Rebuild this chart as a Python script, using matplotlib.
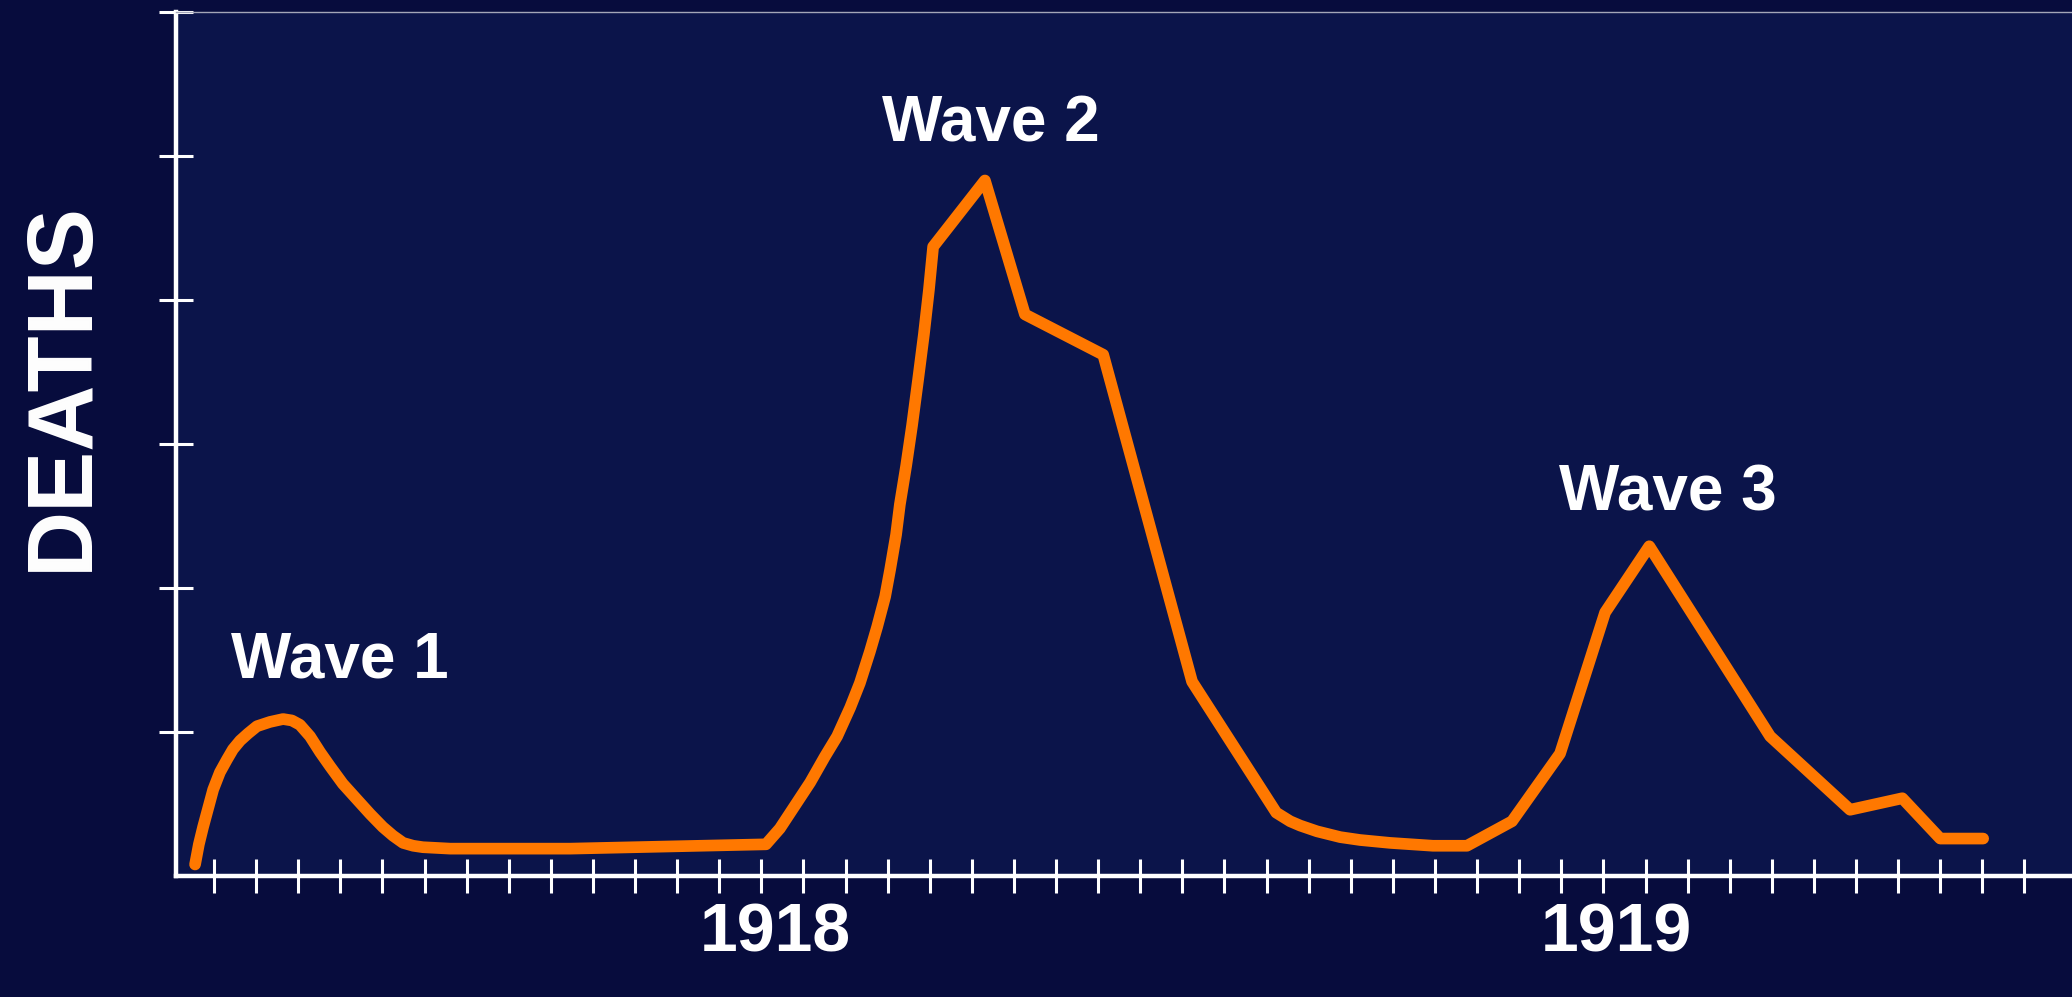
import matplotlib
matplotlib.use("Agg")
import matplotlib.pyplot as plt
import matplotlib.transforms as mtransforms

# ---- data (x in tick units, y in axis units 0..6) ----
week = [-0.45, -0.36, -0.26, -0.14, -0.02, 0.14, 0.31, 0.45, 0.62, 0.81,
        1.02, 1.33, 1.64, 1.85, 2.04, 2.16, 2.28, 2.52, 2.76, 3.06, 3.40,
        3.71, 4.01, 4.25, 4.49, 4.73, 4.96, 5.61, 6.79, 8.46,
        13.11, 13.44, 13.80, 14.16, 14.51, 14.80, 15.11, 15.34, 15.58,
        15.75, 15.94, 16.06, 16.20, 16.29, 16.44, 16.58, 16.72, 16.86,
        16.98, 17.08,
        18.31, 19.26, 21.12, 23.23, 25.23, 25.56, 25.80, 26.20, 26.75,
        27.22, 27.93, 28.95, 29.76,
        30.83, 31.97, 33.04, 34.09, 36.96, 38.86, 40.10, 41.00, 42.02]
deaths = [0.08, 0.22, 0.34, 0.47, 0.60, 0.72, 0.81, 0.88, 0.94, 0.99,
          1.04, 1.07, 1.09, 1.08, 1.05, 1.01, 0.97, 0.86, 0.76, 0.64, 0.53,
          0.43, 0.34, 0.28, 0.23, 0.21, 0.20, 0.19, 0.19, 0.19,
          0.22, 0.33, 0.49, 0.65, 0.83, 0.97, 1.17, 1.34, 1.56,
          1.73, 1.94, 2.13, 2.37, 2.58, 2.85, 3.13, 3.44, 3.76,
          4.07, 4.37,
          4.83, 3.90, 3.62, 1.35, 0.44, 0.38, 0.35, 0.31, 0.27,
          0.25, 0.23, 0.21, 0.21,
          0.38, 0.85, 1.83, 2.29, 0.97, 0.46, 0.54, 0.26, 0.26]

wave_labels = ["Wave 1", "Wave 2", "Wave 3"]
wave_x = [2.99, 18.46, 34.54]
wave_y = [1.38, 5.10, 2.54]

year_labels = ["1918", "1919"]
year_x = [13.32, 33.32]

n_xticks = 44
y_ticks = [1, 2, 3, 4, 5, 6]

# ---- style ----
FIG_BG = "#070C3D"
AX_BG = "#0B144A"
ORANGE = "#FF7800"

fig = plt.figure(figsize=(20.72, 9.97), dpi=100, facecolor=FIG_BG)
ax = fig.add_axes([176 / 2072, 121 / 997, 1 - 176 / 2072, 864 / 997])
ax.set_facecolor(AX_BG)

ax.plot(week, deaths, color=ORANGE, lw=8.4, solid_capstyle="round",
        solid_joinstyle="round", zorder=3)

ax.set_xlim(-0.903, 44.13)
ax.set_ylim(0, 6)

ax.set_xticks(range(n_xticks))
ax.set_yticks(y_ticks)
ax.set_xticklabels([])
ax.set_yticklabels([])
ax.tick_params(axis="both", direction="inout", length=25, width=2.2,
               color="white")

for s in ["left", "bottom"]:
    ax.spines[s].set_color("white")
    ax.spines[s].set_linewidth(3.2)
ax.spines["right"].set_visible(False)
ax.spines["top"].set_color("#A4A6B8")
ax.spines["top"].set_linewidth(1.0)

font = ["Liberation Sans", "DejaVu Sans"]
for lab, x, y in zip(wave_labels, wave_x, wave_y):
    ax.text(x, y, lab, color="white", fontsize=46, fontweight="bold",
            family=font, ha="center", va="baseline")

trans = mtransforms.blended_transform_factory(ax.transData, ax.transAxes)
for lab, x in zip(year_labels, year_x):
    ax.text(x, -0.087, lab, transform=trans, color="white", fontsize=49,
            fontweight="bold", family=font, ha="center", va="baseline")

fig.text(63 / 2072, 1 - 386 / 997, "DEATHS", rotation=90, color="white",
         fontsize=66, fontweight="bold", family=font,
         ha="center", va="center")

fig.savefig("out.png", dpi=100, facecolor=FIG_BG)
